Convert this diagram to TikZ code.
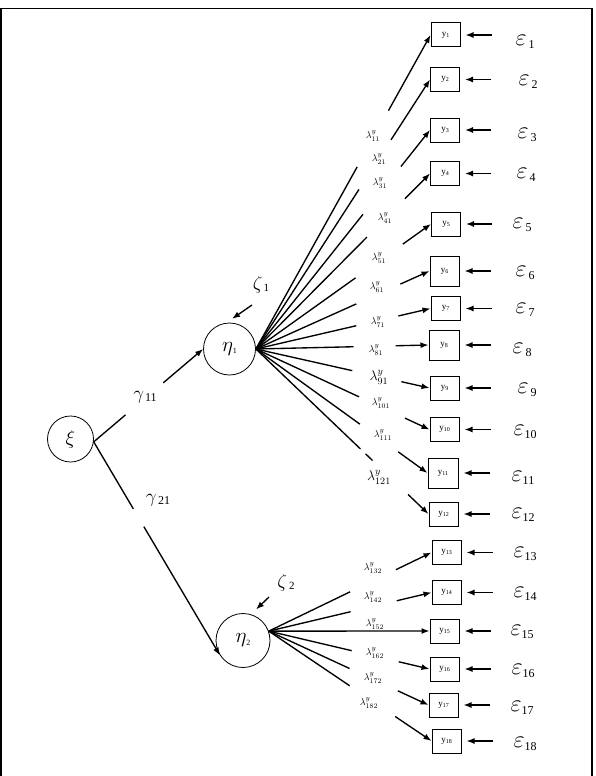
\documentclass[tikz,border=0pt]{standalone}
\usepackage{fix-cm}
\usepackage{fontspec}
\setmainfont{Liberation Serif}
\usetikzlibrary{arrows.meta,calc}
\newcommand\yy[1]{{\fontsize{9}{9}\selectfont y\raisebox{-1.2pt}{\fontsize{6}{6}\selectfont #1}}}
\newcommand\lam[1]{$\lambda^{y}_{#1}$}
% big symbol size, symbol, sub size, sub text, kern, drop
\newcommand\gs[6]{{\fontsize{#1}{#1}\selectfont$#2$}\kern#5\raisebox{-#6}{\fontsize{#3}{#3}\selectfont #4}}
\newcommand\fanedge[4]{%
  \draw[ln] (#1) -- ($(#1)!#3!(#2)$);
  \draw[arr] ($(#1)!#4!(#2)$) -- (#2);}
\begin{document}
\begin{tikzpicture}[x=1pt,y=-1pt,
  obs/.style={draw, line width=1pt, minimum width=29pt, minimum height=24pt, inner sep=0pt},
  lat/.style={draw, circle, line width=0.8pt, inner sep=0pt},
  ln/.style={line width=1.35pt},
  arr/.style={line width=1.35pt, -{Latex[length=8pt,width=6pt]}},
  lab/.style={inner sep=0pt, font=\fontsize{10}{12}\selectfont},
  biglab/.style={inner sep=0pt, font=\fontsize{14}{16}\selectfont},
  eps/.style={inner sep=0pt},
  grk/.style={inner sep=0pt}
]
\useasboundingbox (0,0) rectangle (596,776);
% frame
\draw[line width=1.6pt] (1,777) -- (1,8.5) -- (592,8.5) -- (592,777);

% latent variables
\node[lat, minimum size=46pt] (xi) at (70.5,439) {\fontsize{20}{22}\selectfont$\xi$};
\node[lat, minimum size=52pt] (eta1) at (229.5,349) {\gs{21}{\eta}{8}{1}{0pt}{2.5pt}};
\node[lat, minimum size=54pt] (eta2) at (243,640.5) {\gs{21}{\eta}{8}{2}{0pt}{2.5pt}};

% disturbances
\node[grk] (z1) at (261,285) {\gs{19}{\zeta}{11}{1}{1pt}{2pt}};
\node[grk] (z2) at (286,583) {\gs{19}{\zeta}{11}{2}{2pt}{2pt}};
\coordinate (z1s) at (252,305);
\coordinate (z2s) at (269,597);
\draw[arr, shorten >=7pt] (z1s) -- (eta1.97);
\draw[arr, shorten >=7pt] (z2s) -- (eta2.73);

% structural paths
\coordinate (xo) at (xi.-7);
\draw[ln] (xo) -- ($(xo)!0.29!(eta1.west)$);
\draw[arr] ($(xo)!0.636!(eta1.west)$) -- (eta1.west);
\node[grk] (g11) at (145,397) {\gs{19}{\gamma}{12}{11}{1pt}{2.5pt}};
\draw[ln] (xo) -- ($(xo)!0.314!(eta2.213)$);
\draw[arr] ($(xo)!0.397!(eta2.213)$) -- (eta2.213);
\node[grk] (g21) at (158,500) {\gs{19}{\gamma}{12}{21}{1.5pt}{2.5pt}};

% observed variables
\node[obs] (y1) at (445.5,35) {\yy{1}};
\node[obs] (y2) at (445,79.5) {\yy{2}};
\node[obs] (y3) at (445,130) {\yy{3}};
\node[obs] (y4) at (445,173.5) {\yy{4}};
\node[obs] (y5) at (446,224) {\yy{5}};
\node[obs, minimum height=30pt] (y6) at (444.5,271) {\yy{6}};
\node[obs] (y7) at (445.5,308.5) {\yy{7}};
\node[obs, minimum height=30pt, minimum width=30pt] (y8) at (444,345) {\yy{8}};
\node[obs] (y9) at (444.5,388) {\yy{9}};
\node[obs] (y10) at (444.5,429.5) {\yy{10}};
\node[obs, minimum height=30pt, minimum width=30pt] (y11) at (443,473) {\yy{11}};
\node[obs] (y12) at (443.5,514) {\yy{12}};
\node[obs] (y13) at (446.5,552.5) {\yy{13}};
\node[obs] (y14) at (446.5,592.5) {\yy{14}};
\node[obs] (y15) at (444.5,631) {\yy{15}};
\node[obs] (y16) at (444.5,669) {\yy{16}};
\node[obs] (y17) at (443.5,705) {\yy{17}};
\node[obs] (y18) at (446.5,741) {\yy{18}};

% loadings eta1
\coordinate (s1) at (eta1.east);
\fanedge{s1}{y1.west}{0.58}{0.759}
\fanedge{s1}{y2.west}{0.592}{0.776}
\fanedge{s1}{y3.west}{0.615}{0.833}
\fanedge{s1}{y4.west}{0.638}{0.856}
\fanedge{s1}{y5.west}{0.569}{0.839}
\fanedge{s1}{y6.west}{0.578}{0.832}
\fanedge{s1}{y7.west}{0.575}{0.816}
\fanedge{s1}{y8.west}{0.566}{0.809}
\fanedge{s1}{y9.west}{0.555}{0.838}
\fanedge{s1}{y10.west}{0.594}{0.859}
\fanedge{s1}{y11.west}{0.606}{0.829}
\fanedge{s1}{y12.west}{0.606}{0.882}
\draw[ln] ($(s1)!0.635!(y12.west)$) -- ($(s1)!0.676!(y12.west)$);

% loadings eta2
\coordinate (s2) at (eta2.20);
\fanedge{s2}{y13.west}{0.5}{0.781}
\fanedge{s2}{y14.west}{0.503}{0.786}
\draw[arr] (s2) -- (y15.west);
\fanedge{s2}{y16.west}{0.516}{0.809}
\fanedge{s2}{y17.west}{0.506}{0.808}
\fanedge{s2}{y18.west}{0.497}{0.777}

% loading labels
\node[lab] (l1) at (373,136) {\lam{11}};
\node[lab] (l2) at (379,159) {\lam{21}};
\node[lab] (l3) at (380,183) {\lam{31}};
\node[lab] (l4) at (385,218) {\lam{41}};
\node[lab] (l5) at (379,258) {\lam{51}};
\node[lab] (l6) at (377,287) {\lam{61}};
\node[lab] (l7) at (378,322) {\lam{71}};
\node[lab] (l8) at (376,350) {\lam{81}};
\node[biglab] (l9) at (379,377) {\lam{91}};
\node[lab] (l10) at (381,403) {\lam{101}};
\node[lab] (l11) at (383,435) {\lam{111}};
\node[biglab] (l12) at (379,477) {\lam{121}};
\node[lab] (l13) at (373,568) {\lam{132}};
\node[lab] (l14) at (373,597) {\lam{142}};
\node[lab] (l15) at (375,624) {\lam{152}};
\node[lab] (l16) at (375,653) {\lam{162}};
\node[lab] (l17) at (373,678) {\lam{172}};
\node[lab] (l18) at (369,703) {\lam{182}};

% errors
\foreach \i/\x/\y/\k in {1/525/42/2pt, 2/528/82/2pt, 3/527/135/2pt, 4/526/175/2pt, 5/522/225/2pt, 6/525/273/2pt, 7/525/310/2pt, 8/522/350/2pt, 9/527/390/2pt, 10/525/432/0pt, 11/523/478/0pt, 12/523/515/0pt, 13/525/554/0pt, 14/525/594/0pt, 15/522/632/0pt, 16/523/671/0pt, 17/522/708/0pt, 18/525/744/0pt}{
  \node[eps] (e\i) at (\x,\y) {\gs{24}{\varepsilon}{12}{\i}{\k}{3pt}};
  \draw[arr, shorten >=5pt] ([xshift=31pt]y\i.east) -- (y\i.east);
}
\end{tikzpicture}
\end{document}
